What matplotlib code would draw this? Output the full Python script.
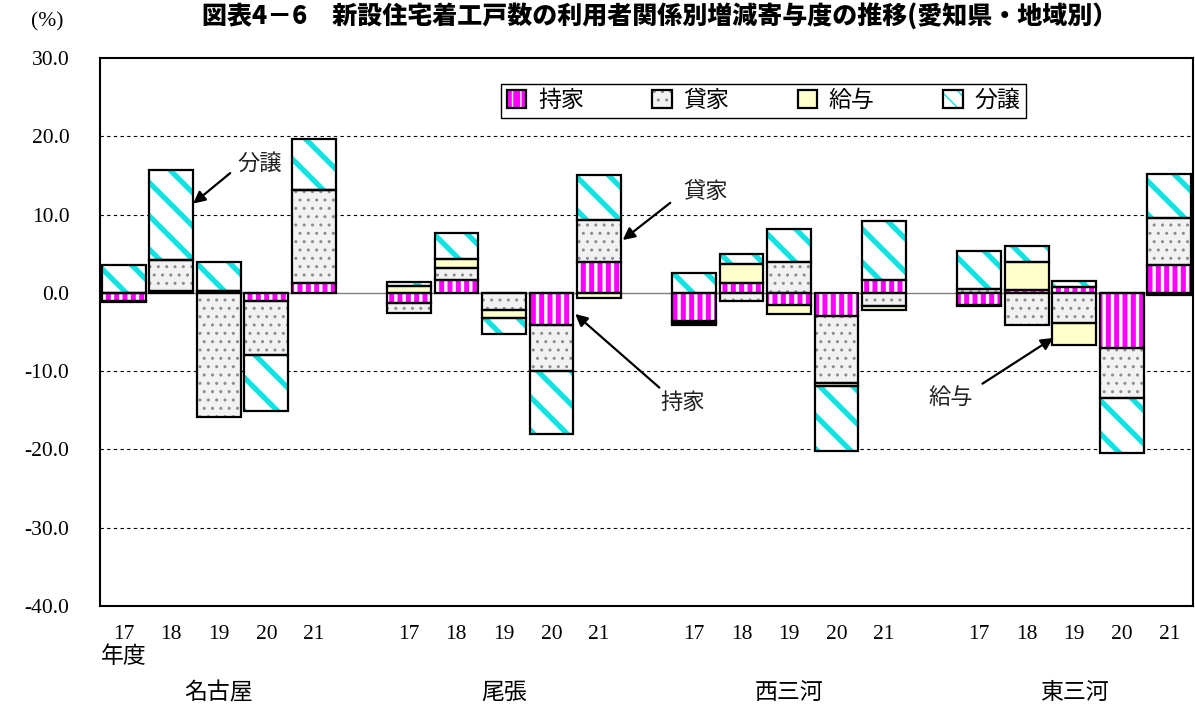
import matplotlib
matplotlib.use("Agg")
import matplotlib.pyplot as plt
from matplotlib.patches import Patch
from matplotlib.legend_handler import HandlerTuple
from matplotlib.transforms import blended_transform_factory

plt.rcParams['font.family'] = ['Noto Sans CJK JP', 'DejaVu Sans']

regions = ['名古屋', '尾張', '西三河', '東三河']
years = ['17', '18', '19', '20', '21']
series = ['持家', '貸家', '給与', '分譲']

# 寄与度 (%) 名古屋, 尾張, 西三河, 東三河 の順に 17～21年度
mochiie = [-1.0, 0.25, 0.2, -1.0, 1.3,
           -1.3, 1.7, 0.0, -4.05, 4.0,
           -3.6, 1.3, -1.55, -3.0, 1.7,
           -1.5, 0.4, 0.8, -7.0, 3.5]
kashiya = [-0.15, 4.0, -15.8, -6.95, 11.9,
           -1.3, 1.5, -2.25, -5.95, 5.3,
           -0.2, -1.1, 4.0, -8.5, -1.7,
           0.5, -4.05, -3.8, -6.45, 6.1]
kyuyo = [0.0, 0.0, 0.1, 0.0, 0.0,
         0.85, 1.15, -0.95, 0.0, -0.7,
         -0.3, 2.4, -1.2, -0.4, -0.5,
         -0.2, 3.6, -2.85, 0.0, -0.3]
bunjo = [3.6, 11.5, 3.6, -7.1, 6.5,
         0.6, 3.3, -2.0, -8.0, 5.75,
         2.6, 1.3, 4.15, -8.35, 7.5,
         4.8, 2.0, 0.7, -6.95, 5.6]

values = [mochiie, kashiya, kyuyo, bunjo]

# 塗り: (地色, ハッチ, ハッチ色, ハッチ線幅, 凡例用ハッチ, 凡例用線幅)
styles = [
    ('#ff00ff', '||', 'white', 2.4, '||', 2.4),
    ('#f2f2f2', '..', '#8c8c8c', 1.0, '..', 1.0),
    ('#ffffcc', '', '#ffffcc', 1.0, '', 1.0),
    ('white', '\\', '#10e2e2', 3.8, '\\\\', 2.6),
]

positions = [r * 6 + i for r in range(len(regions)) for i in range(len(years))]

fig = plt.figure(figsize=(11.95, 7.04), dpi=100)
ax = fig.add_axes([100 / 1195, 98 / 704, 1093 / 1195, 548 / 704])

# 補助線
for v in [20, 10, -10, -20, -30]:
    ax.axhline(v, color='black', lw=0.8, ls=(0, (3, 3)), zorder=0.5)
ax.axhline(0, color='#808080', lw=1.0, zorder=0.5)

pos_base = [0.0] * len(positions)
neg_base = [0.0] * len(positions)
handles = []
for name, vals, (face, hatch, hcol, hlw, lhatch, llw) in zip(series, values, styles):
    bottoms = []
    for k, v in enumerate(vals):
        if v >= 0:
            bottoms.append(pos_base[k])
            pos_base[k] += v
        else:
            bottoms.append(neg_base[k])
            neg_base[k] += v
    with plt.rc_context({'hatch.linewidth': hlw}):
        ax.bar(positions, vals, bottom=bottoms, width=0.92, color=face,
               hatch=hatch, edgecolor=hcol, linewidth=0, zorder=2)
    with plt.rc_context({'hatch.linewidth': llw}):
        h1 = Patch(facecolor=face, hatch=lhatch, edgecolor=hcol, linewidth=0)
    ax.bar(positions, vals, bottom=bottoms, width=0.92, fill=False,
           edgecolor='black', linewidth=1.6, zorder=3)
    h2 = Patch(fill=False, edgecolor='black', linewidth=1.6)
    handles.append((h1, h2))

ax.set_xlim(-0.5, 22.5)
ax.set_ylim(-40, 30)
ax.set_yticks(range(-40, 31, 10))
ax.set_yticklabels([f'{v:.1f}' for v in range(-40, 31, 10)],
                   fontfamily='Liberation Serif', fontsize=15.5)
ax.set_xticks(positions)
ax.set_xticklabels(years * len(regions), fontfamily='Liberation Serif', fontsize=15.5)
ax.tick_params(axis='y', length=0, pad=22)
ax.tick_params(axis='x', length=0, pad=14)
for s in ax.spines.values():
    s.set_linewidth(1.5)
    s.set_color('black')

leg = ax.legend(handles, series, handler_map={tuple: HandlerTuple(ndivide=1, pad=0)},
                loc='center', bbox_to_anchor=(0.607, 0.922), ncol=4, fontsize=16.5,
                handlelength=0.85, handleheight=0.85, handletextpad=0.5,
                columnspacing=3.0, fancybox=False, edgecolor='black', framealpha=1,
                borderpad=0.25)
leg.get_frame().set_linewidth(1.0)
leg.set_zorder(5)

# 注記
arrow = dict(arrowstyle='-|>', color='black', lw=1.6, mutation_scale=18,
             shrinkA=0, shrinkB=0)
notes = [
    ('分譲', (1.46, 11.4), (2.24, 15.3), (2.87, 16.6)),
    ('貸家', (10.5, 6.75), (11.5, 11.5), (12.24, 13.0)),
    ('持家', (9.5, -2.7), (11.27, -12.1), (11.77, -14.06)),
    ('給与', (19.56, -5.76), (18.07, -11.6), (17.4, -13.4)),
]
for label, head, tail, tpos in notes:
    ax.annotate('', xy=head, xytext=tail, arrowprops=arrow, zorder=6)
    ax.text(tpos[0], tpos[1], label, ha='center', va='center', fontsize=16,
            color='#222222', zorder=6)

trans = blended_transform_factory(ax.transData, ax.transAxes)
ax.text(0, -0.093, '年度', transform=trans, ha='center', va='center', fontsize=16.5)
for r, name in enumerate(regions):
    ax.text(r * 6 + 2, -0.158, name, transform=trans, ha='center', va='center', fontsize=16.5)

fig.text(660 / 1195, 1 - 16 / 704, '図表4－6　新設住宅着工戸数の利用者関係別増減寄与度の推移(愛知県・地域別）',
         ha='center', va='center', fontsize=18, fontweight='heavy')
fig.text(47 / 1195, 1 - 22 / 704, '(%)', ha='center', va='center',
         fontfamily='Liberation Serif', fontsize=15.5)

fig.savefig('out.png', dpi=100)
